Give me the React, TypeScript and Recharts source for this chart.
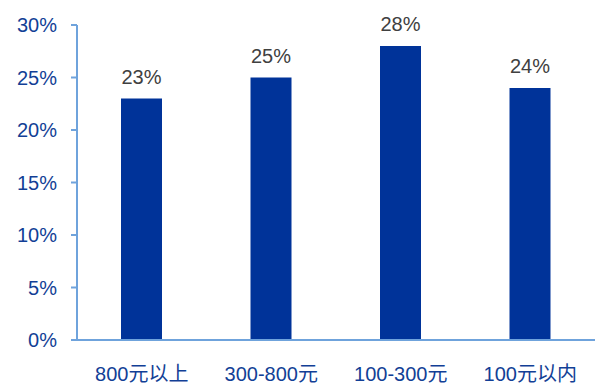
import React from "react";
import { BarChart, Bar, XAxis, YAxis, LabelList } from "recharts";

const categories = ["800元以上", "300-800元", "100-300元", "100元以内"];
const shares = [23, 25, 28, 24];
const yTicks = [0, 5, 10, 15, 20, 25, 30];

const data = categories.map((c, i) => ({ name: c, value: shares[i] }));

const FONT = "'Liberation Sans', Arial, 'Noto Sans CJK SC', sans-serif";
const AXIS = "#6fa3dc";
const TEXT_BLUE = "#123f96";

export default function App() {
  return (
    <div style={{ position: "absolute", left: 0, top: 0 }}>
      <BarChart
        width={596}
        height={385}
        data={data}
        margin={{ top: 25, right: 1, bottom: 0, left: 0 }}
      >
        <XAxis
          dataKey="name"
          tickLine={false}
          axisLine={{ stroke: AXIS, strokeWidth: 2 }}
          tickSize={6}
          tickMargin={21}
          height={45}
          tick={{ fill: TEXT_BLUE, fontSize: 20, fontFamily: FONT }}
        />
        <XAxis
          xAxisId="ticks"
          type="number"
          domain={[0, 4]}
          ticks={[0, 1, 2, 3, 4]}
          allowDataOverflow
          axisLine={false}
          tick={false}
          tickSize={6}
          tickLine={{ stroke: AXIS, strokeWidth: 2 }}
          height={0}
        />
        <YAxis
          width={77}
          domain={[0, 30]}
          ticks={yTicks}
          interval={0}
          tickFormatter={(v: number) => `${v}%`}
          axisLine={{ stroke: AXIS, strokeWidth: 2 }}
          tickLine={{ stroke: AXIS, strokeWidth: 2 }}
          tickSize={6}
          tickMargin={14}
          tick={{ fill: TEXT_BLUE, fontSize: 20, fontFamily: FONT }}
        />
        <Bar dataKey="value" fill="#003399" barSize={41} isAnimationActive={false}>
          <LabelList
            dataKey="value"
            position="top"
            offset={15}
            formatter={(v: number) => `${v}%`}
            style={{ fill: "#404040", fontSize: 20, fontFamily: FONT }}
          />
        </Bar>
      </BarChart>
    </div>
  );
}
